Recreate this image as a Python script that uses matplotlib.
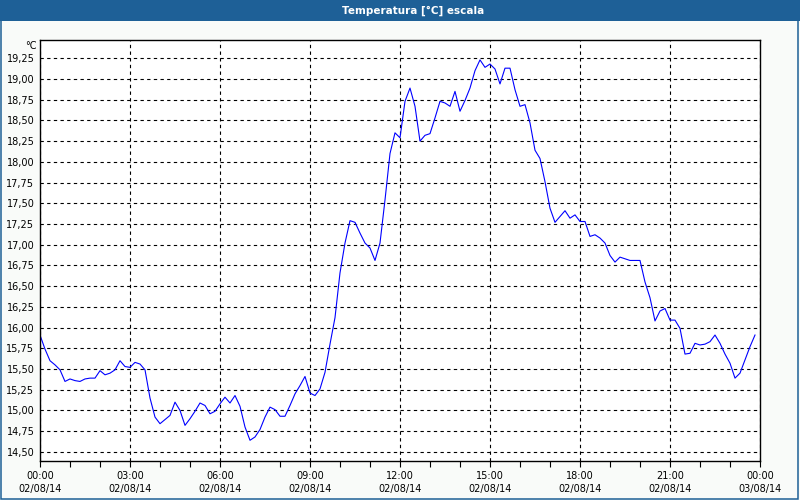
import matplotlib.pyplot as plt
from matplotlib.patches import Rectangle
from matplotlib.ticker import MultipleLocator

# temperatura cada 10 minutos, 00:00 .. 23:50
temps = [15.91, 15.74, 15.60, 15.55, 15.49, 15.35, 15.38, 15.36, 15.35, 15.38,
         15.39, 15.39, 15.48, 15.43, 15.45, 15.49, 15.60, 15.53, 15.52, 15.58,
         15.56, 15.49, 15.15, 14.92, 14.84, 14.89, 14.94, 15.10, 15.00, 14.82,
         14.90, 14.99, 15.09, 15.06, 14.96, 14.99, 15.08, 15.16, 15.09, 15.18,
         15.05, 14.80, 14.64, 14.68, 14.77, 14.92, 15.04, 15.01, 14.93, 14.93,
         15.06, 15.20, 15.30, 15.41, 15.21, 15.18, 15.26, 15.46, 15.80, 16.12,
         16.66, 17.02, 17.29, 17.27, 17.14, 17.02, 16.96, 16.81, 17.02, 17.54,
         18.10, 18.35, 18.29, 18.73, 18.89, 18.67, 18.25, 18.32, 18.34, 18.53,
         18.73, 18.71, 18.67, 18.85, 18.61, 18.74, 18.89, 19.10, 19.23, 19.14,
         19.18, 19.12, 18.94, 19.13, 19.13, 18.87, 18.67, 18.69, 18.47, 18.14,
         18.04, 17.76, 17.44, 17.27, 17.34, 17.41, 17.32, 17.36, 17.28, 17.28,
         17.10, 17.12, 17.08, 17.02, 16.87, 16.79, 16.85, 16.83, 16.81, 16.81,
         16.81, 16.55, 16.36, 16.08, 16.20, 16.23, 16.09, 16.09, 15.99, 15.68,
         15.69, 15.81, 15.79, 15.80, 15.83, 15.91, 15.81, 15.68, 15.57, 15.39,
         15.45, 15.61, 15.77, 15.91]
horas = [i / 6 for i in range(len(temps))]

xticks = [0, 3, 6, 9, 12, 15, 18, 21, 24]
xlabels = ["00:00\n02/08/14", "03:00\n02/08/14", "06:00\n02/08/14",
           "09:00\n02/08/14", "12:00\n02/08/14", "15:00\n02/08/14",
           "18:00\n02/08/14", "21:00\n02/08/14", "00:00\n03/08/14"]
yticks = [14.50, 14.75, 15.00, 15.25, 15.50, 15.75, 16.00, 16.25, 16.50, 16.75,
          17.00, 17.25, 17.50, 17.75, 18.00, 18.25, 18.50, 18.75, 19.00, 19.25]

titulo = "Temperatura [°C] escala"
azul_barra = "#1E6097"

plt.rcParams['font.family'] = ['DejaVu Sans']

fig = plt.figure(figsize=(8, 5), dpi=100)
fig.patch.set_facecolor("#F9FBF9")

# barra del titulo y marco
fig.patches.append(Rectangle((0, 1 - 21 / 500), 1, 21 / 500, transform=fig.transFigure,
                             facecolor=azul_barra, edgecolor="none", zorder=0))
fig.patches.append(Rectangle((0.001, 0.002), 0.997, 0.996, transform=fig.transFigure,
                             facecolor="none", edgecolor=azul_barra, lw=1.1, zorder=1))
fig.text(413 / 800, 1 - 10.5 / 500, titulo, color="white", fontsize=7.5,
         fontweight="bold", ha="center", va="center")

ax = fig.add_axes([40 / 800, 39 / 500, 720 / 800, 421 / 500])
ax.set_facecolor("white")
ax.plot(horas, temps, color="#0000FF", lw=0.8)

ax.set_xlim(0, 24)
ax.set_ylim(14.39, 19.47)
ax.set_xticks(xticks)
ax.set_xticklabels(xlabels, fontsize=7, linespacing=1.45)
ax.xaxis.set_minor_locator(MultipleLocator(1))
ax.set_yticks(yticks)
ax.set_yticklabels([("%.2f" % v).replace(".", ",") for v in yticks], fontsize=7)
ax.tick_params(axis="x", which="both", direction="out", length=4, width=0.8, pad=3)
ax.tick_params(axis="y", length=0, pad=4)

ax.grid(True, which="major", color="black", lw=0.8, linestyle=(0, (3, 3)))
for s in ax.spines.values():
    s.set_linewidth(1)
    s.set_color("black")

ax.text(-0.004, 0.985, "°C", transform=ax.transAxes, ha="right", va="center", fontsize=7)

fig.savefig("out.png", dpi=100, facecolor=fig.get_facecolor())
